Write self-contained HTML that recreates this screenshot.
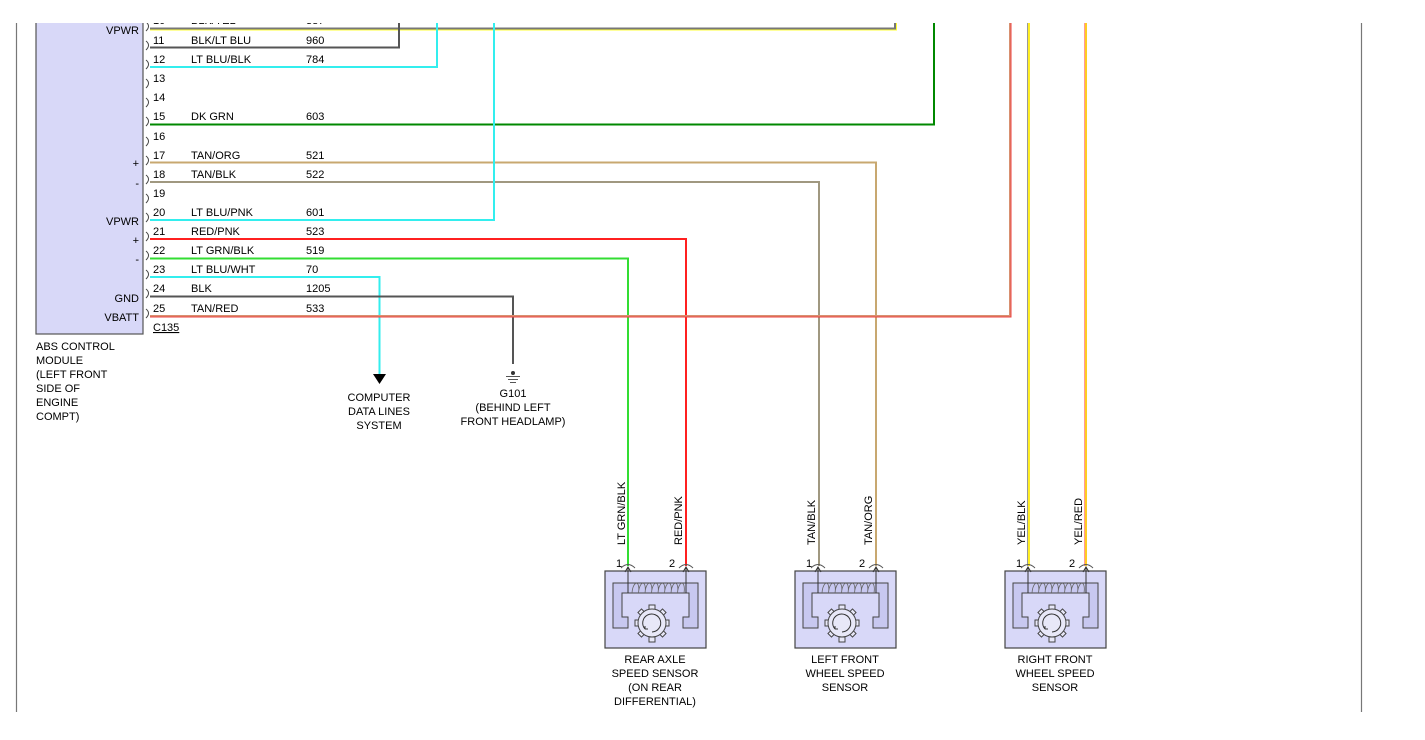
<!DOCTYPE html>
<html><head><meta charset="utf-8"><style>
html,body{margin:0;padding:0;background:#fff;width:1425px;height:740px;overflow:hidden}
svg{display:block}
text{font-family:"Liberation Sans",Arial,sans-serif;font-size:11px;fill:#000}
</style></head><body>
<svg width="1425" height="740" viewBox="0 0 1425 740" xmlns="http://www.w3.org/2000/svg">
<defs>
<g id="sensor">
  <rect x="0" y="0" width="101" height="77" fill="#d8d8f8" stroke="#444" stroke-width="1.2"/>
  <polygon points="8,12 93,12 93,57 78,57 78,46 84,46 84,22 17,22 17,46 23,46 23,57 8,57" fill="#c8c8f0" stroke="#444" stroke-width="1"/>
  <path d="M27,22 c1,-13 8.5,-13 6.5,0 c1,-13 8.5,-13 6.5,0 c1,-13 8.5,-13 6.5,0 c1,-13 8.5,-13 6.5,0 c1,-13 8.5,-13 6.5,0 c1,-13 8.5,-13 6.5,0 c1,-13 8.5,-13 6.5,0 c1,-13 8.5,-13 6.5,0" fill="none" stroke="#666" stroke-width="0.8"/>
  <g stroke="#444" stroke-width="1" fill="#e8e8f8">
    <rect x="44" y="34" width="6" height="5"/><rect x="44" y="66" width="6" height="5"/>
    <rect x="30" y="49" width="5" height="6"/><rect x="59" y="49" width="5" height="6"/>
    <rect x="34" y="39" width="5" height="5" transform="rotate(45 36.5 41.5)"/>
    <rect x="55" y="39" width="5" height="5" transform="rotate(45 57.5 41.5)"/>
    <rect x="34" y="60" width="5" height="5" transform="rotate(45 36.5 62.5)"/>
    <rect x="55" y="60" width="5" height="5" transform="rotate(45 57.5 62.5)"/>
    <circle cx="47" cy="52" r="14" fill="#e8e8f8"/>
  </g>
  <path d="M40,58 A9,9 0 1 1 47,61" fill="none" stroke="#333" stroke-width="1"/>
  <path d="M40,58 l0,-3 m0,3 l3,0" stroke="#333" stroke-width="1" fill="none"/>
  <path d="M23,22 V-4 M20,1 L23,-4 L26,1" fill="none" stroke="#333" stroke-width="1"/>
  <path d="M81,22 V-4 M78,1 L81,-4 L84,1" fill="none" stroke="#333" stroke-width="1"/>
  <path d="M16,-3 Q23,-10 30,-3 M74,-3 Q81,-10 88,-3" fill="none" stroke="#555" stroke-width="1"/>
</g>
</defs>

<line x1="16.5" y1="23" x2="16.5" y2="712" stroke="#777" stroke-width="1.2"/>
<line x1="1361.5" y1="23" x2="1361.5" y2="712" stroke="#777" stroke-width="1.2"/>

<rect x="36" y="18" width="107" height="316" fill="#d8d8f8" stroke="#555" stroke-width="1.2"/>
<g text-anchor="end">
<text x="139" y="34">VPWR</text>
<text x="139" y="167">+</text>
<text x="139" y="187">-</text>
<text x="139" y="225">VPWR</text>
<text x="139" y="244">+</text>
<text x="139" y="263">-</text>
<text x="139" y="302">GND</text>
<text x="139" y="321">VBATT</text>
</g>
<text x="153" y="331" text-decoration="underline">C135</text>
<text x="36" y="350">ABS CONTROL</text>
<text x="36" y="364">MODULE</text>
<text x="36" y="378">(LEFT FRONT</text>
<text x="36" y="392">SIDE OF</text>
<text x="36" y="406">ENGINE</text>
<text x="36" y="420">COMPT)</text>

<g>
<text x="153" y="24">10</text><text x="191" y="24">BLK/YEL</text><text x="306" y="24">387</text>
<text x="153" y="44">11</text><text x="191" y="44">BLK/LT BLU</text><text x="306" y="44">960</text>
<text x="153" y="63">12</text><text x="191" y="63">LT BLU/BLK</text><text x="306" y="63">784</text>
<text x="153" y="82">13</text>
<text x="153" y="101">14</text>
<text x="153" y="120">15</text><text x="191" y="120">DK GRN</text><text x="306" y="120">603</text>
<text x="153" y="140">16</text>
<text x="153" y="159">17</text><text x="191" y="159">TAN/ORG</text><text x="306" y="159">521</text>
<text x="153" y="178">18</text><text x="191" y="178">TAN/BLK</text><text x="306" y="178">522</text>
<text x="153" y="197">19</text>
<text x="153" y="216">20</text><text x="191" y="216">LT BLU/PNK</text><text x="306" y="216">601</text>
<text x="153" y="235">21</text><text x="191" y="235">RED/PNK</text><text x="306" y="235">523</text>
<text x="153" y="254">22</text><text x="191" y="254">LT GRN/BLK</text><text x="306" y="254">519</text>
<text x="153" y="273">23</text><text x="191" y="273">LT BLU/WHT</text><text x="306" y="273">70</text>
<text x="153" y="292">24</text><text x="191" y="292">BLK</text><text x="306" y="292">1205</text>
<text x="153" y="312">25</text><text x="191" y="312">TAN/RED</text><text x="306" y="312">533</text>
</g>
<g fill="none" stroke="#444" stroke-width="1">
<path d="M146,22 q5,4 0,9 M146,41 q5,4 0,9 M146,60 q5,4 0,9 M146,79 q5,4 0,9 M146,98 q5,4 0,9 M146,117 q5,4 0,9 M146,137 q5,4 0,9 M146,156 q5,4 0,9 M146,175 q5,4 0,9 M146,194 q5,4 0,9 M146,213 q5,4 0,9 M146,232 q5,4 0,9 M146,251 q5,4 0,9 M146,270 q5,4 0,9 M146,289 q5,4 0,9 M146,309 q5,4 0,9"/>
</g>

<g fill="none" stroke-width="2">
<polyline points="150,28.5 895,28.5 895,0" stroke="#777"/>
<polyline points="150,30 896.5,30 896.5,0" stroke="#ffff33" stroke-width="1"/>
<polyline points="150,47.5 399,47.5 399,0" stroke="#555"/>
<polyline points="150,67 437,67 437,0" stroke="#33eeee"/>
<polyline points="150,124.5 934,124.5 934,0" stroke="#008800"/>
<polyline points="150,162.5 876,162.5 876,566" stroke="#c8a870"/>
<polyline points="150,182 819,182 819,566" stroke="#a09880"/>
<polyline points="150,220 494,220 494,0" stroke="#33eeee"/>
<polyline points="150,239 686,239 686,566" stroke="#ff2020"/>
<polyline points="150,258.5 628,258.5 628,566" stroke="#33dd33"/>
<polyline points="150,277 379.5,277 379.5,375" stroke="#33eeee"/>
<polyline points="150,296.5 513,296.5 513,364" stroke="#555"/>
<polyline points="150,316 1010,316 1010,0" stroke="#d89070"/>
<polyline points="150,317 1011,317 1011,0" stroke="#ee4040" stroke-width="1"/>
<line x1="1029" y1="0" x2="1029" y2="566" stroke="#ffee22"/>
<line x1="1027.5" y1="0" x2="1027.5" y2="566" stroke="#999" stroke-width="1"/>
<line x1="1086" y1="0" x2="1086" y2="566" stroke="#ffcc22"/>
<line x1="1084.5" y1="0" x2="1084.5" y2="566" stroke="#ff9999" stroke-width="1"/>
</g>

<polygon points="373,374 386,374 379.5,384" fill="#000"/>
<text x="379" y="401" text-anchor="middle">COMPUTER</text>
<text x="379" y="415" text-anchor="middle">DATA LINES</text>
<text x="379" y="429" text-anchor="middle">SYSTEM</text>
<circle cx="513" cy="373" r="2" fill="#333"/>
<g stroke="#555" stroke-width="1"><line x1="506" y1="376.5" x2="520" y2="376.5"/><line x1="508" y1="379.5" x2="518" y2="379.5"/><line x1="510" y1="382.5" x2="516" y2="382.5"/></g>
<text x="513" y="397" text-anchor="middle">G101</text>
<text x="513" y="411" text-anchor="middle">(BEHIND LEFT</text>
<text x="513" y="425" text-anchor="middle">FRONT HEADLAMP)</text>

<use href="#sensor" transform="translate(605,571)"/>
<use href="#sensor" transform="translate(795,571)"/>
<use href="#sensor" transform="translate(1005,571)"/>

<g>
<text x="616" y="567">1</text><text x="669" y="567">2</text>
<text x="806" y="567">1</text><text x="859" y="567">2</text>
<text x="1016" y="567">1</text><text x="1069" y="567">2</text>
</g>
<g>
<text transform="translate(625,545) rotate(-90)">LT GRN/BLK</text>
<text transform="translate(682,545) rotate(-90)">RED/PNK</text>
<text transform="translate(815,545) rotate(-90)">TAN/BLK</text>
<text transform="translate(872,545) rotate(-90)">TAN/ORG</text>
<text transform="translate(1025,545) rotate(-90)">YEL/BLK</text>
<text transform="translate(1082,545) rotate(-90)">YEL/RED</text>
</g>
<g text-anchor="middle">
<text x="655" y="663">REAR AXLE</text>
<text x="655" y="677">SPEED SENSOR</text>
<text x="655" y="691">(ON REAR</text>
<text x="655" y="705">DIFFERENTIAL)</text>
<text x="845" y="663">LEFT FRONT</text>
<text x="845" y="677">WHEEL SPEED</text>
<text x="845" y="691">SENSOR</text>
<text x="1055" y="663">RIGHT FRONT</text>
<text x="1055" y="677">WHEEL SPEED</text>
<text x="1055" y="691">SENSOR</text>
</g>

<rect x="0" y="0" width="1425" height="23" fill="#fff"/>
</svg>
</body></html>
